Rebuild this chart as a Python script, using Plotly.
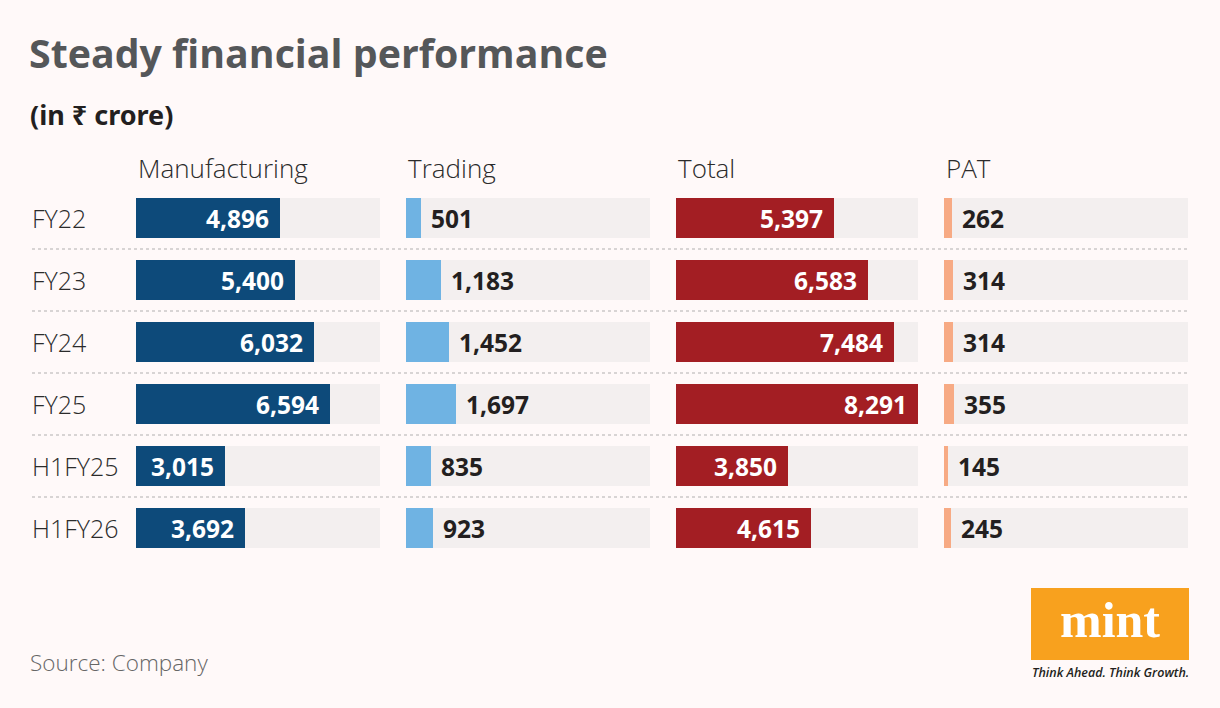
import plotly.graph_objects as go

# ---------------- data ----------------
periods = ["FY22", "FY23", "FY24", "FY25", "H1FY25", "H1FY26"]
manufacturing = [4896, 5400, 6032, 6594, 3015, 3692]
trading = [501, 1183, 1452, 1697, 835, 923]
total = [5397, 6583, 7484, 8291, 3850, 4615]
pat = [262, 314, 314, 355, 145, 245]
column_names = ["Manufacturing", "Trading", "Total", "PAT"]

title = "Steady financial performance"
subtitle = "(in ₹ crore)"
source = "Source: Company"

# ---------------- style ----------------
W, H = 1220, 708
BG = "#FFF9F9"
TRACK = "#F3EFEF"
COLORS = ["#0D4A7A", "#6FB3E3", "#A31E23", "#F7AA84"]
INSIDE = [True, False, True, False]
PANELS = [(136, 380), (406, 650), (676, 918), (944, 1188)]  # px
ROW_TOP, ROW_PITCH, BAR_H = 187, 62, 40
AXIS_MAX = max(total)
FONT = "Open Sans"

series = [manufacturing, trading, total, pat]
n = len(periods)

def px_x(p):
    return p / W

def px_y(p):
    return 1 - p / H

fig = go.Figure()
layout_axes = {}
annotations = []
shapes = []

y_top = ROW_TOP
y_bot = ROW_TOP + ROW_PITCH * n

for i, (vals, col, inside, (x0, x1)) in enumerate(zip(series, COLORS, INSIDE, PANELS)):
    k = "" if i == 0 else str(i + 1)
    xa, ya = "x" + k, "y" + k
    # track
    fig.add_trace(go.Bar(
        x=[AXIS_MAX] * n, y=periods, orientation="h", marker=dict(color=TRACK, line_width=0),
        width=BAR_H / ROW_PITCH, xaxis=xa, yaxis=ya, hoverinfo="skip", showlegend=False))
    # value
    fig.add_trace(go.Bar(
        x=vals, y=periods, orientation="h", marker=dict(color=col, line_width=0),
        width=BAR_H / ROW_PITCH, xaxis=xa, yaxis=ya, showlegend=False,
        name=column_names[i]))
    layout_axes["xaxis" + k] = dict(domain=[px_x(x0), px_x(x1)], range=[0, AXIS_MAX],
                                    visible=False, fixedrange=True, anchor=ya)
    layout_axes["yaxis" + k] = dict(domain=[px_y(y_bot), px_y(y_top)], type="category",
                                    categoryorder="array", categoryarray=periods,
                                    range=[n - 0.5, -0.5], visible=False, anchor=xa)
    # column header
    annotations.append(dict(text=column_names[i], xref=xa + " domain", x=0, xanchor="left",
                            yref="paper", y=px_y(168), yanchor="middle", showarrow=False,
                            font=dict(family=FONT, size=26, color="#2B2B2B", weight=300)))
    # value labels
    for p, v in zip(periods, vals):
        if inside:
            annotations.append(dict(text=f"{v:,}", xref=xa, x=v, xanchor="right", xshift=-9,
                                    yref=ya, y=p, yanchor="middle", showarrow=False,
                                    font=dict(family=FONT, size=24.5, color="white", weight=700)))
        else:
            annotations.append(dict(text=f"{v:,}", xref=xa, x=v, xanchor="left", xshift=8,
                                    yref=ya, y=p, yanchor="middle", showarrow=False,
                                    font=dict(family=FONT, size=24.5, color="#231F20", weight=700)))

# row labels
for p in periods:
    annotations.append(dict(text=p, xref="paper", x=px_x(30), xanchor="left",
                            yref="y", y=p, yanchor="middle", showarrow=False,
                            font=dict(family=FONT, size=25, color="#2B2B2B", weight=300)))

# dotted separators between rows
for j in range(n - 1):
    shapes.append(dict(type="line", xref="paper", x0=px_x(32), x1=px_x(1188),
                       yref="y", y0=j + 0.5, y1=j + 0.5,
                       line=dict(color="#D8D4D4", width=2, dash="dot")))

# title, subtitle, source
annotations.append(dict(text=f"<b>{title}</b>", xref="paper", x=px_x(27), xanchor="left",
                        yref="paper", y=px_y(53), yanchor="middle", showarrow=False,
                        font=dict(family=FONT, size=39.3, color="#555759")))
annotations.append(dict(text=f"<b>{subtitle}</b>", xref="paper", x=px_x(28), xanchor="left",
                        yref="paper", y=px_y(114), yanchor="middle", showarrow=False,
                        font=dict(family="Noto Sans", size=27, color="#231F20")))
annotations.append(dict(text=source, xref="paper", x=px_x(28), xanchor="left",
                        yref="paper", y=px_y(662), yanchor="middle", showarrow=False,
                        font=dict(family=FONT, size=22.5, color="#666666", weight=300)))

# mint logo
shapes.append(dict(type="rect", xref="paper", yref="paper", x0=px_x(1031), x1=px_x(1189),
                   y0=px_y(660), y1=px_y(588), fillcolor="#F8A11E", line_width=0, layer="above"))
annotations.append(dict(text="<b>mint</b>", xref="paper", x=px_x(1110), xanchor="center",
                        yref="paper", y=px_y(620), yanchor="middle", showarrow=False,
                        font=dict(family="Liberation Serif", size=50, color="white")))
annotations.append(dict(text="<i>Think Ahead. Think Growth.</i>", xref="paper", x=px_x(1110),
                        xanchor="center", yref="paper", y=px_y(672), yanchor="middle",
                        showarrow=False,
                        font=dict(family=FONT, size=12.5, color="#231F20", weight=600)))

fig.update_layout(
    width=W, height=H, margin=dict(l=0, r=0, t=0, b=0),
    paper_bgcolor=BG, plot_bgcolor="rgba(0,0,0,0)",
    barmode="overlay", bargap=0,
    annotations=annotations, shapes=shapes,
    **layout_axes,
)

fig.write_html(
    "out.html",
    config={"displayModeBar": False},
    post_script="document.body.style.margin='0';document.body.style.overflow='hidden';"
                "document.body.style.background='" + BG + "';",
)
